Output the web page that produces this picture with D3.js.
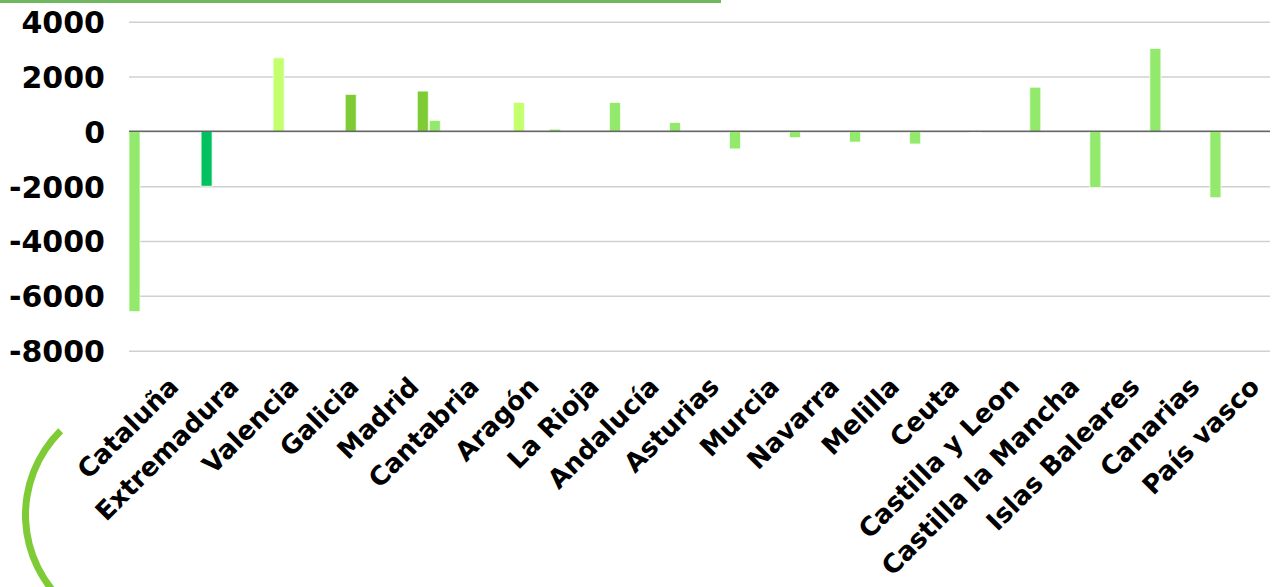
<!DOCTYPE html>
<html>
<head>
<meta charset="utf-8">
<script src="https://cdn.jsdelivr.net/npm/d3@7"></script>
<style>
  body { margin: 0; background: #fff; overflow: hidden; }
  svg { display: block; }
  text { font-family: "DejaVu Sans", sans-serif; font-weight: bold; fill: #000; }
</style>
</head>
<body>
<script>
// categorias del eje x
var regiones = ["Cataluña", "Extremadura", "Valencia", "Galicia", "Madrid", "Cantabria",
    "Aragón", "La Rioja", "Andalucía", "Asturias", "Murcia", "Navarra", "Melilla", "Ceuta",
    "Castilla y Leon", "Castilla la Mancha", "Islas Baleares", "Canarias", "País vasco"];

// cada serie ocupa su hueco dentro del grupo (null = sin barra)
var serie1 = [-6570, null, null, null, null, 400, null, 80, 1050, 320, -640, -230, -390, -460, -40, 1610, -2050, 3020, -2420];
var serie2 = [null, -2000, null, null, null, null, null, null, null, null, null, null, null, null, null, null, null, null, null];
var serie3 = [null, null, 2680, null, null, null, 1050, null, null, null, null, null, null, null, null, null, null, null, null];
var serie4 = [null, null, null, 1350, null, null, null, null, null, null, null, null, null, null, null, null, null, null, null];
var serie5 = [null, null, null, null, 1470, null, null, null, null, null, null, null, null, null, null, null, null, null, null];

var yTicks = [-8000, -6000, -4000, -2000, 0, 2000, 4000];

var colores = ["#93e96b", "#00c060", "#c4ff6e", "#7ecb35", "#7ecb35"];
var series = [serie1, serie2, serie3, serie4, serie5];

var W = 1272, H = 587;
var margin = { top: 21.7, right: 2, bottom: 236.3, left: 129 }
    , width = W - margin.left - margin.right
    , height = H - margin.top - margin.bottom;

var svg = d3.select("body").append("svg")
    .attr("width", W)
    .attr("height", H);

var g = svg.append("g")
    .attr("transform", "translate(" + margin.left + "," + margin.top + ")");

var x0 = d3.scaleBand()
    .domain(regiones)
    .range([0, width]);

var x1 = d3.scaleBand()
    .domain(d3.range(series.length))
    .range([0, x0.bandwidth()])
    .paddingOuter(0);

var y = d3.scaleLinear()
    .domain([-8000, 4000])
    .range([height, 0]);

// lineas de cuadricula
g.append("g")
    .call(d3.axisLeft(y).tickValues(yTicks).tickSize(-width).tickFormat(""))
    .call(function (s) { s.select(".domain").remove(); })
    .selectAll("line")
    .attr("stroke", "#d0d0d0")
    .attr("stroke-width", 1.5);

// barras
var barras = [];
series.forEach(function (s, k) {
    s.forEach(function (v, i) {
        if (v !== null) barras.push({ region: regiones[i], serie: k, value: v });
    });
});

g.selectAll("rect.bar")
    .data(barras)
    .enter().append("rect")
    .attr("class", "bar")
    .attr("x", function (d) { return x0(d.region) + x1(d.serie); })
    .attr("width", x1.bandwidth() - 1)
    .attr("y", function (d) { return y(Math.max(0, d.value)); })
    .attr("height", function (d) { return Math.abs(y(d.value) - y(0)); })
    .attr("fill", function (d) { return colores[d.serie]; })
    .attr("stroke", "#f4fff0")
    .attr("stroke-width", 0.8);

// linea del cero
g.append("line")
    .attr("x1", 0).attr("x2", width)
    .attr("y1", y(0)).attr("y2", y(0))
    .attr("stroke", "#666")
    .attr("stroke-width", 1.5);

// eje y
g.append("g")
    .attr("transform", "translate(-24,0)")
    .call(d3.axisLeft(y).tickValues(yTicks).tickSize(0).tickFormat(function (d) { return String(d); }))
    .call(function (s) { s.select(".domain").remove(); })
    .selectAll("text")
    .attr("x", 0)
    .attr("dy", "0.36em")
    .style("font-size", "30px")
    .style("font-family", "'DejaVu Sans', sans-serif")
    .style("font-weight", "bold")
    .attr("fill", "#000");

// eje x (etiquetas giradas)
g.append("g")
    .attr("transform", "translate(0," + (375 - margin.top) + ")")
    .call(d3.axisBottom(x0).tickSize(0))
    .call(function (s) { s.select(".domain").remove(); })
    .selectAll("text")
    .attr("x", 0)
    .attr("y", 0)
    .attr("dy", "0.72em")
    .attr("text-anchor", "end")
    .attr("transform", "translate(8,0) rotate(-45)")
    .style("font-size", "26px")
    .style("font-family", "'DejaVu Sans', sans-serif")
    .style("font-weight", "bold")
    .attr("fill", "#000");

// decoracion: linea superior y arco
svg.append("rect")
    .attr("x", 0).attr("y", 0)
    .attr("width", 721).attr("height", 3)
    .attr("fill", "#70b860");

var arco = d3.arc()
    .innerRadius(115)
    .outerRadius(122)
    .startAngle(-2.45)
    .endAngle(-0.78);

svg.append("path")
    .attr("transform", "translate(144,515)")
    .attr("d", arco())
    .attr("fill", "#7ecb35");
</script>
</body>
</html>
